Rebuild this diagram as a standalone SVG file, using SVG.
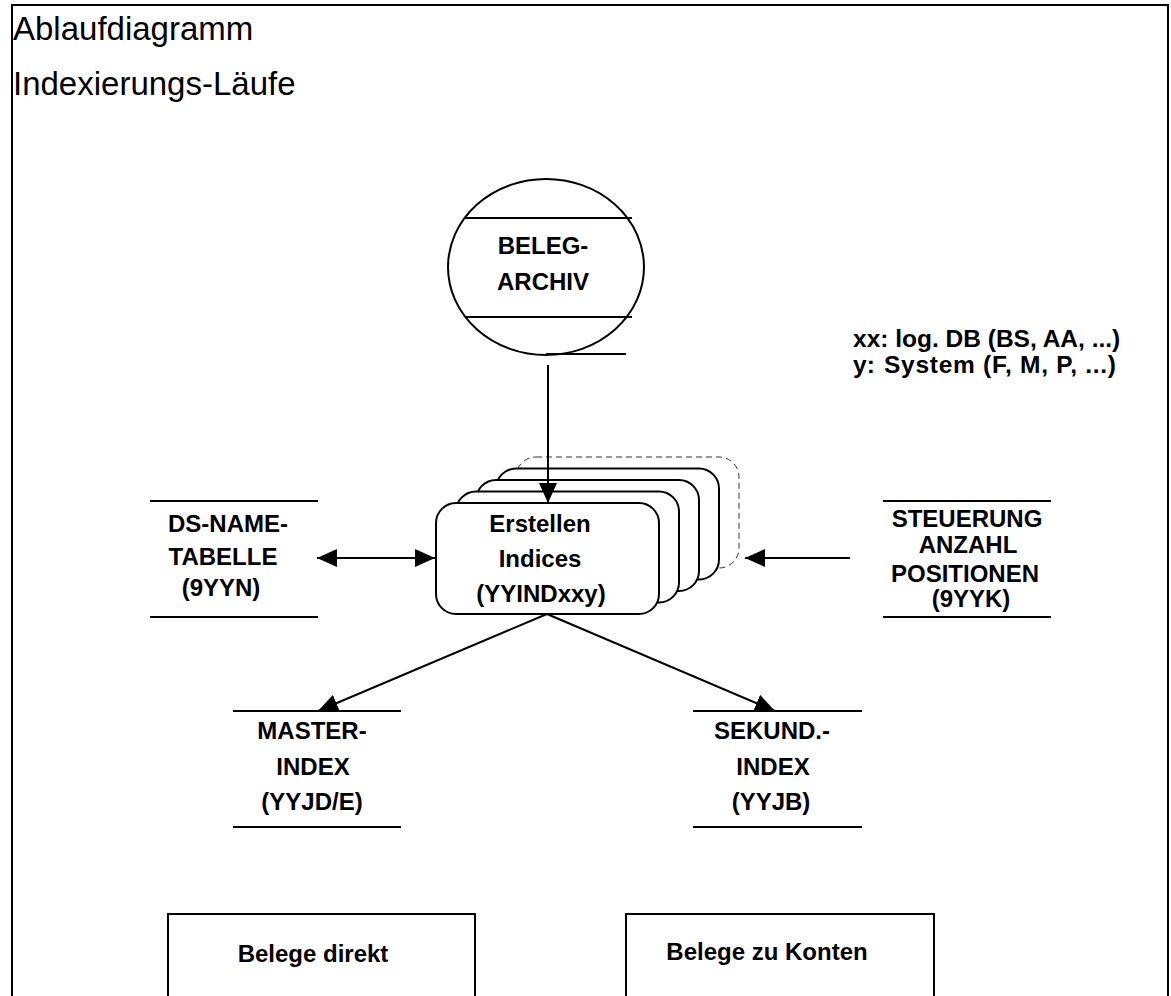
<svg xmlns="http://www.w3.org/2000/svg" width="1171" height="996" viewBox="0 0 1171 996">
<style>
.t{font-family:"Liberation Sans",Arial,sans-serif;font-weight:bold;font-size:24px;fill:#000;text-anchor:middle}
.l{font-family:"Liberation Sans",Arial,sans-serif;font-weight:bold;font-size:24.5px;fill:#000}
.title{font-family:"Liberation Sans",Arial,sans-serif;font-size:33px;fill:#000}
.ln{stroke:#000;stroke-width:2;fill:none}
.box{stroke:#000;stroke-width:2;fill:#fff}
.dash{stroke:#333;stroke-width:1;fill:#fff;stroke-dasharray:6,4}
.arr{stroke:#000;stroke-width:2;fill:none;marker-end:url(#ah)}
</style>
<defs>
<marker id="ah" markerWidth="20" markerHeight="18" refX="20" refY="9" orient="auto" markerUnits="userSpaceOnUse">
<path d="M0,0 L20,9 L0,18 Z" fill="#000"/>
</marker>
<marker id="ahs" markerWidth="20" markerHeight="18" refX="0" refY="9" orient="auto" markerUnits="userSpaceOnUse">
<path d="M20,0 L0,9 L20,18 Z" fill="#000"/>
</marker>
</defs>
<rect x="0" y="0" width="1171" height="996" fill="#fff"/>
<rect id="frame" x="12" y="5" width="1156" height="1010" class="ln"/>
<g id="title">
<text class="title" x="13" y="40">Ablaufdiagramm</text>
<text class="title" x="13" y="95">Indexierungs-Läufe</text>
</g>
<g id="legend">
<text class="l" x="853" y="347">xx: log. DB (BS, AA, ...)</text>
<text class="l" x="853" y="373">y:</text>
<text class="l" x="884" y="373" textLength="232" lengthAdjust="spacing">System (F, M, P, ...)</text>
</g>
<g id="belegarchiv">
<ellipse cx="546" cy="267" rx="98" ry="88" class="ln"/>
<line class="ln" x1="465" y1="218" x2="632" y2="218"/>
<line class="ln" x1="465" y1="317" x2="632" y2="317"/>
<line class="ln" x1="546" y1="354" x2="626" y2="354"/>
<text class="t" x="543" y="254">BELEG-</text>
<text class="t" x="543" y="290">ARCHIV</text>
</g>
<g id="indices">
<rect class="dash" x="516" y="457" width="223" height="111" rx="20"/>
<rect class="box" x="496" y="468.5" width="223" height="111" rx="20"/>
<rect class="box" x="476" y="480" width="223" height="111" rx="20"/>
<rect class="box" x="456" y="491.5" width="223" height="111" rx="20"/>
<rect class="box" x="436" y="503" width="223" height="111" rx="20"/>
<text class="t" x="540" y="532">Erstellen</text>
<text class="t" x="540" y="567">Indices</text>
<text class="t" x="541" y="602">(YYINDxxy)</text>
</g>
<g id="dsname">
<line class="ln" x1="150" y1="501" x2="318" y2="501"/>
<line class="ln" x1="150" y1="617" x2="318" y2="617"/>
<text class="t" x="228" y="532">DS-NAME-</text>
<text class="t" x="223" y="565">TABELLE</text>
<text class="t" x="221" y="596">(9YYN)</text>
</g>
<g id="steuerung">
<line class="ln" x1="883" y1="501" x2="1051" y2="501"/>
<line class="ln" x1="883" y1="617" x2="1051" y2="617"/>
<text class="t" x="967" y="527">STEUERUNG</text>
<text class="t" x="968" y="553">ANZAHL</text>
<text class="t" x="965" y="582">POSITIONEN</text>
<text class="t" x="971" y="607">(9YYK)</text>
</g>
<g id="master">
<line class="ln" x1="233" y1="711" x2="401" y2="711"/>
<line class="ln" x1="233" y1="827" x2="401" y2="827"/>
<text class="t" x="312" y="739">MASTER-</text>
<text class="t" x="313" y="775">INDEX</text>
<text class="t" x="312" y="810">(YYJD/E)</text>
</g>
<g id="sekund">
<line class="ln" x1="693" y1="711" x2="862" y2="711"/>
<line class="ln" x1="693" y1="827" x2="862" y2="827"/>
<text class="t" x="772" y="739">SEKUND.-</text>
<text class="t" x="773" y="775">INDEX</text>
<text class="t" x="771" y="810">(YYJB)</text>
</g>
<g id="direkt">
<rect class="box" x="168" y="914" width="307" height="100"/>
<text class="t" x="313" y="962">Belege direkt</text>
</g>
<g id="konten">
<rect class="box" x="626" y="914" width="308" height="100"/>
<text class="t" x="767" y="960">Belege zu Konten</text>
</g>
<g id="connectors">
<line class="arr" x1="548" y1="365" x2="548" y2="503"/>
<line class="arr" x1="317" y1="558" x2="435" y2="558" style="marker-start:url(#ahs)"/>
<line class="arr" x1="850" y1="558" x2="745" y2="558"/>
<line class="arr" x1="547" y1="614" x2="318" y2="711"/>
<line class="arr" x1="547" y1="614" x2="775" y2="711"/>
</g>
</svg>
